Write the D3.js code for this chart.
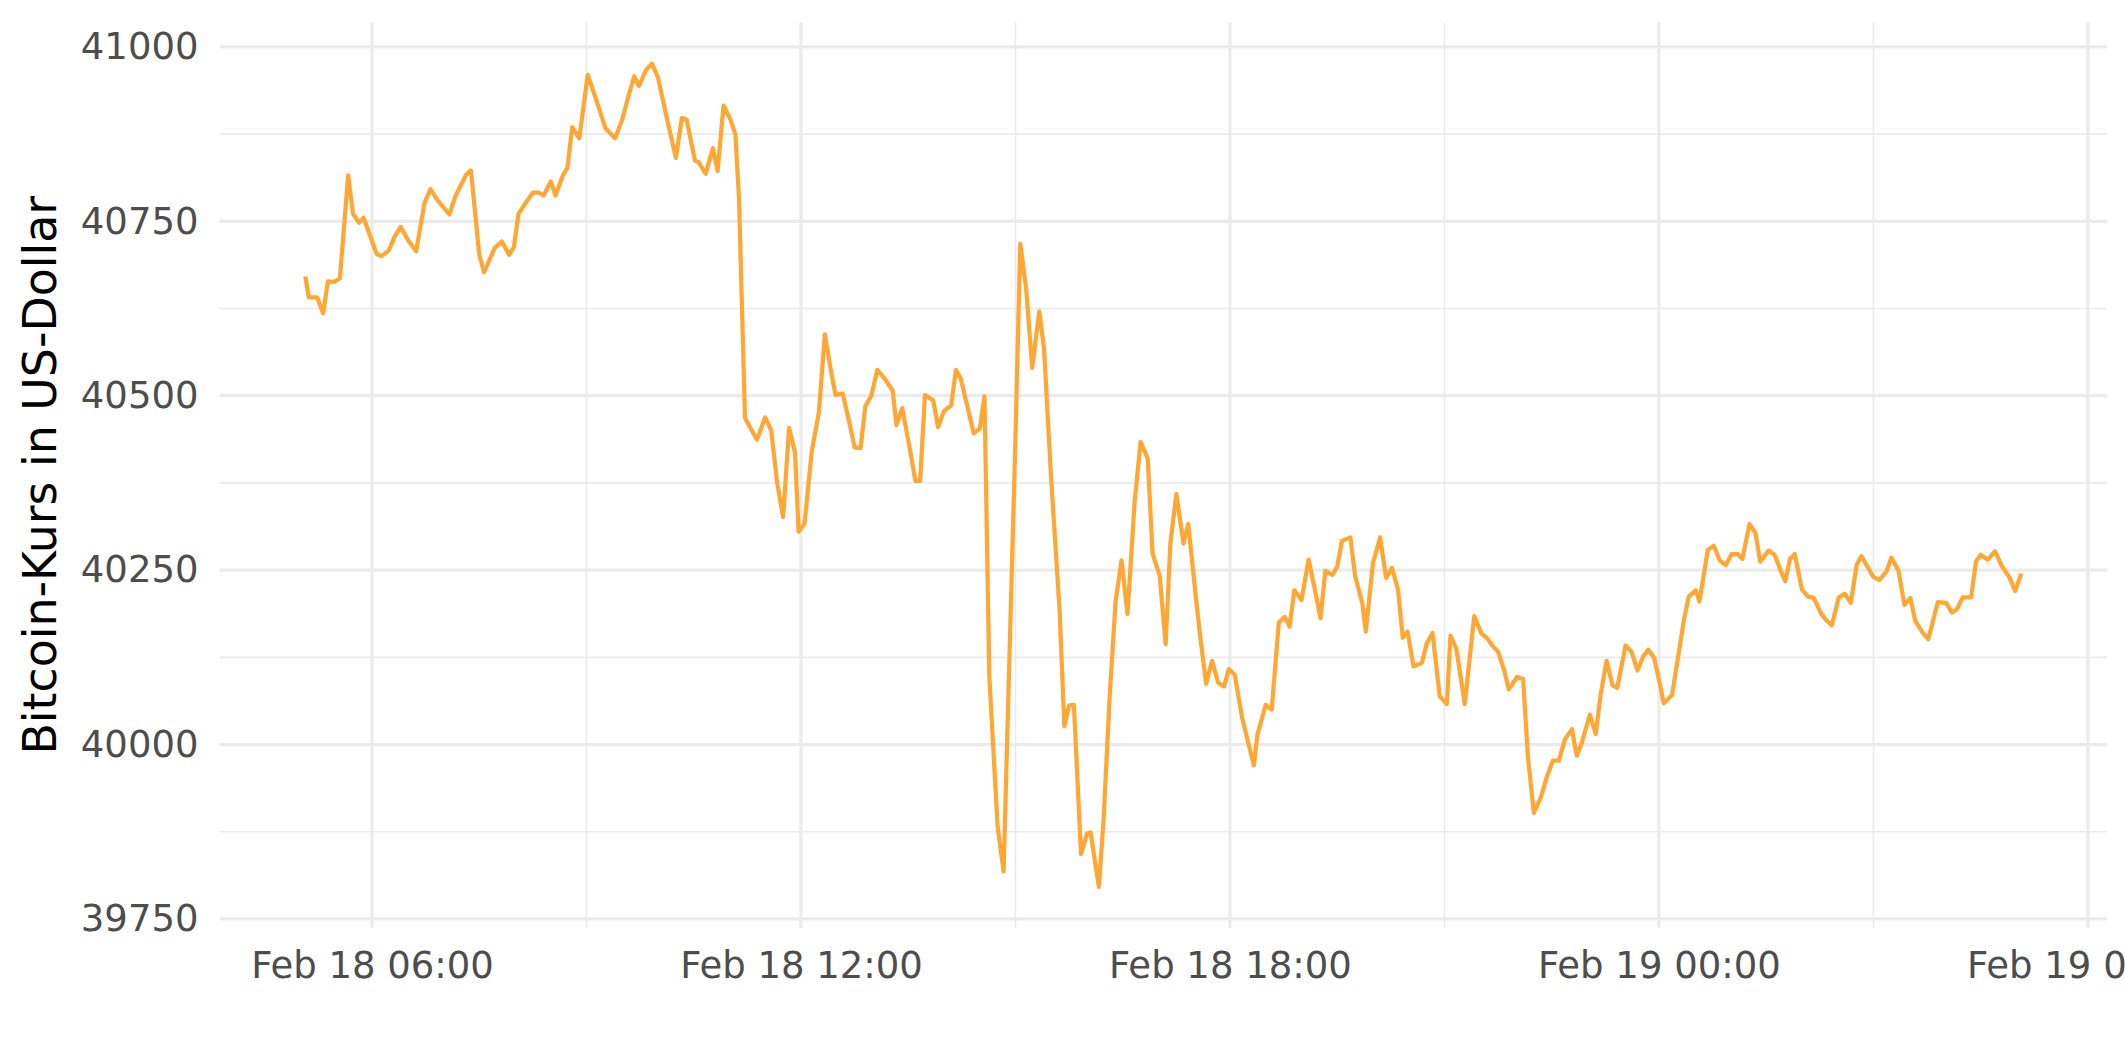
<!DOCTYPE html>
<html>
<head>
<meta charset="utf-8">
<script src="https://cdn.jsdelivr.net/npm/d3@7"></script>
<style>
  html, body { margin: 0; padding: 0; background: #ffffff; }
  svg { display: block; }
  text { font-family: "DejaVu Sans", sans-serif; }
</style>
</head>
<body>
<svg id="chart" width="2125" height="1062"></svg>
<script>
// Minutes after 2022-02-18 00:00 (local) for each observation
const minutes = [
  304,307,314,319,323,328,333,340,344,349,353,358,364,368,374,379,384,391,397,404,409,415,425,430,439,443,
  450,454,463,469,475,479,483,488,495,500,504,510,514,520,524,528,534,541,548,556,564,570,574,580,584,590,595,600,
  608,615,620,624,631,634,640,646,650,655,661,665,668,673,683,690,695,700,705,710,715,718,723,729,
  735,740,745,749,755,760,765,770,774,779,784,790,797,800,805,811,816,820,824,831,835,840,846,850,854,865,870,874,
  878,885,890,895,900,904,909,914,920,924,930,937,941,945,949,955,960,963,970,974,979,984,989,994,1000,1005,1011,
  1015,1021,1026,1030,1035,1041,1045,1051,1055,1060,1065,1070,1075,1079,1084,1090,1100,1103,1110,1115,1121,1126,1130,
  1134,1140,1146,1151,1156,1160,1166,1170,1174,1181,1185,1191,1194,1200,1206,1211,1216,1221,1225,1229,1234,1241,1245,
  1250,1256,1262,1265,1270,1277,1285,1291,1296,1301,1305,1310,1314,1321,1326,1330,1335,1341,1346,1351,1356,1361,1367,
  1371,1375,1382,1387,1391,1396,1401,1405,1412,1417,1422,1427,1431,1436,1441,1444,1451,1461,1465,1471,1474,1481,1486,
  1491,1496,1501,1506,1510,1516,1521,1525,1532,1537,1542,1546,1550,1554,1560,1565,1570,1576,1580,1585,1591,1596,1601,
  1606,1610,1620,1625,1631,1635,1641,1646,1651,1655,1661,1666,1674,1681,1686,1690,1695,1702,1706,1710,1716,1722,1728,
  1734,1739,1744
];
// Bitcoin price in US dollars
const prices = [
  40671,40641,40641,40618,40664,40663,40668,40816,40761,40748,40755,40731,40703,40700,40708,40728,40742,40721,40707,40776,40796,40780,40760,40786,40817,40823,
  40702,40677,40712,40721,40702,40713,40761,40774,40791,40791,40787,40807,40787,40815,40827,40885,40869,40960,40925,40883,40869,40896,40922,40958,40944,40967,40976,40956,
  40893,40841,40898,40896,40837,40835,40818,40855,40822,40916,40895,40874,40781,40468,40437,40469,40450,40375,40326,40454,40418,40305,40317,40420,
  40476,40588,40537,40501,40503,40466,40426,40425,40485,40500,40537,40525,40507,40458,40482,40427,40378,40378,40501,40493,40455,40478,40486,40537,40525,40446,40453,40499,
  40099,39882,39818,40130,40442,40718,40653,40540,40621,40566,40379,40193,40026,40056,40057,39843,39872,39874,39796,39894,40068,40205,40264,40187,40348,40434,40410,
  40274,40242,40144,40289,40359,40288,40316,40217,40155,40087,40120,40089,40083,40108,40100,40040,39970,40014,40057,40050,40175,40183,40169,
  40221,40207,40265,40224,40181,40249,40243,40255,40292,40297,40242,40203,40162,40260,40297,40239,40253,40222,40153,40162,40112,40117,40144,
  40160,40069,40058,40156,40137,40058,40184,40159,40152,40140,40133,40107,40079,40097,40094,39983,39902,39925,39954,39977,39977,40007,40022,
  39984,40001,40043,40015,40071,40120,40085,40081,40142,40133,40106,40127,40136,40124,40085,40059,40071,40179,40212,40221,40205,40279,40285,
  40264,40257,40273,40273,40266,40316,40303,40262,40278,40272,40250,40234,40266,40273,40222,40212,40210,40188,40179,40171,40211,40216,40203,
  40258,40270,40240,40236,40248,40268,40249,40200,40210,40178,40161,40151,40204,40203,40189,40194,40211,40211,40262,40272,40265,40277,40255,
  40240,40220,40245
];
const yTicks = [39750, 40000, 40250, 40500, 40750, 41000];
const yMinor = [39875, 40125, 40375, 40625, 40875];
const yTitle = "Bitcoin-Kurs in US-Dollar";

const base = new Date(2022, 1, 18, 0, 0, 0);
const data = minutes.map((m, i) => ({ t: new Date(base.getTime() + m * 60000), v: prices[i] }));

const W = 2125, H = 1062;
const panel = { left: 219.5, right: 2107, top: 22.5, bottom: 928 };

const tExt = d3.extent(data, d => d.t);
const tSpan = tExt[1] - tExt[0];
const x = d3.scaleTime()
  .domain([new Date(+tExt[0] - 0.05 * tSpan), new Date(+tExt[1] + 0.05 * tSpan)])
  .range([panel.left, panel.right]);

const vExt = d3.extent(data, d => d.v);
const vSpan = vExt[1] - vExt[0];
const y = d3.scaleLinear()
  .domain([vExt[0] - 0.05 * vSpan, vExt[1] + 0.05 * vSpan])
  .range([panel.bottom, panel.top]);

const svg = d3.select("#chart");
svg.append("rect").attr("width", W).attr("height", H).attr("fill", "#ffffff");

const grid = svg.append("g");
const xMajor = x.ticks(d3.timeHour.every(6));
const xMinorT = x.ticks(d3.timeHour.every(3)).filter(t => t.getHours() % 6 !== 0);

// minor gridlines
grid.selectAll(".ymin").data(yMinor).join("line")
  .attr("x1", panel.left).attr("x2", panel.right)
  .attr("y1", d => y(d)).attr("y2", d => y(d))
  .attr("stroke", "#ebebeb").attr("stroke-width", 1.6);
grid.selectAll(".xmin").data(xMinorT).join("line")
  .attr("y1", panel.top).attr("y2", panel.bottom)
  .attr("x1", d => x(d)).attr("x2", d => x(d))
  .attr("stroke", "#ebebeb").attr("stroke-width", 1.6);
// major gridlines
grid.selectAll(".ymaj").data(yTicks).join("line")
  .attr("x1", panel.left).attr("x2", panel.right)
  .attr("y1", d => y(d)).attr("y2", d => y(d))
  .attr("stroke", "#ebebeb").attr("stroke-width", 3.2);
grid.selectAll(".xmaj").data(xMajor).join("line")
  .attr("y1", panel.top).attr("y2", panel.bottom)
  .attr("x1", d => x(d)).attr("x2", d => x(d))
  .attr("stroke", "#ebebeb").attr("stroke-width", 3.2);

// line
const line = d3.line().x(d => x(d.t)).y(d => y(d.v));
svg.append("path").datum(data)
  .attr("d", line)
  .attr("fill", "none")
  .attr("stroke", "#ffa633")
  .attr("stroke-width", 4.2)
  .attr("stroke-linejoin", "round");

// axes
const fmt = d3.timeFormat("%b %d %H:%M");
const yAxis = d3.axisLeft(y).tickValues(yTicks).tickSize(0).tickPadding(21).tickFormat(d3.format("d"));
const gy = svg.append("g").attr("transform", `translate(${panel.left},0)`).call(yAxis);
gy.select(".domain").remove();
gy.selectAll("text").attr("font-family", "DejaVu Sans").attr("font-size", 37).attr("fill", "#4d4d4d");

const xAxis = d3.axisBottom(x).tickValues(xMajor).tickSize(0).tickPadding(24).tickFormat(fmt);
const gx = svg.append("g").attr("transform", `translate(0,${panel.bottom})`).call(xAxis);
gx.select(".domain").remove();
gx.selectAll("text").attr("font-family", "DejaVu Sans").attr("font-size", 37).attr("fill", "#4d4d4d");

svg.append("text")
  .attr("transform", `translate(56,${(panel.top + panel.bottom) / 2}) rotate(-90)`)
  .attr("text-anchor", "middle")
  .attr("font-family", "DejaVu Sans")
  .attr("font-size", 45.8)
  .attr("fill", "#000000")
  .text(yTitle);
</script>
</body>
</html>
